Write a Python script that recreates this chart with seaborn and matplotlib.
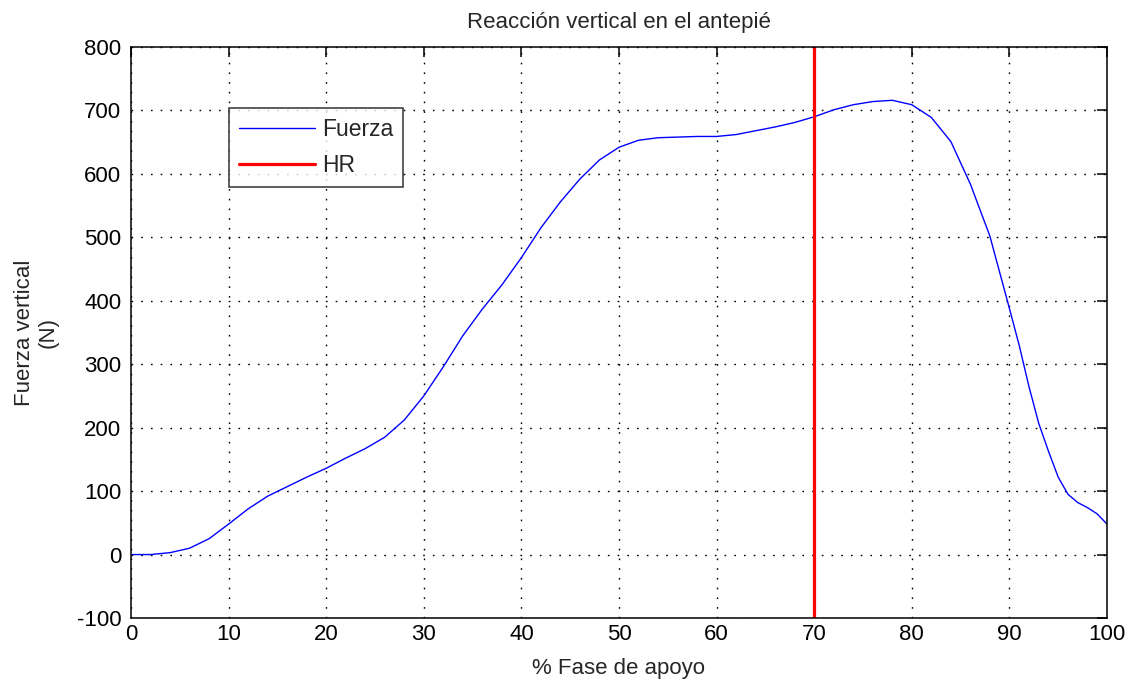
import numpy as np
import pandas as pd
import matplotlib
matplotlib.use("Agg")
import matplotlib.pyplot as plt
import seaborn as sns

# Stance-phase percentage and forefoot vertical force (N)
fase = [0, 2, 4, 6, 8, 10, 12, 14, 16, 18, 20, 22, 24, 26, 28, 30, 32, 34, 36, 38,
        40, 42, 44, 46, 48, 50, 52, 54, 56, 58, 60, 62, 64, 66, 68, 70, 72, 74, 76, 78,
        80, 82, 84, 86, 88, 90, 91, 92, 93, 94, 95, 96, 97, 98, 99, 100]
fuerza = [0, 0, 3, 10, 25, 48, 72, 92, 107, 122, 136, 152, 167, 185, 212, 250, 296, 345, 387, 425,
          468, 515, 556, 592, 622, 642, 653, 657, 658, 659, 659, 662, 668, 674, 681, 690, 701, 709, 714, 716,
          709, 689, 651, 584, 502, 388, 330, 265, 207, 163, 122, 95, 82, 74, 64, 48]

# Heel-rise instant (% of stance)
hr = 70

x_ticks = list(range(0, 101, 10))
y_ticks = list(range(-100, 801, 100))

sns.set_style("white")
plt.rcParams["font.family"] = ["Liberation Sans", "DejaVu Sans"]
plt.rcParams["font.size"] = 16
plt.rcParams["axes.unicode_minus"] = False

df = pd.DataFrame({"fase": fase, "fuerza": fuerza})

fig = plt.figure(figsize=(11.3, 6.89), dpi=100)
ax = fig.add_axes([131 / 1130, 1 - 618 / 689, 976 / 1130, 571 / 689])

sns.lineplot(data=df, x="fase", y="fuerza", ax=ax, color="#0000ff", linewidth=1.0,
             label="Fuerza")
ax.axvline(hr, color="#ff0000", linewidth=2.3, label="HR")

ax.set_xlim(0, 100)
ax.set_ylim(-100, 800)
ax.set_xticks(x_ticks)
ax.set_yticks(y_ticks)
ax.grid(True, color="black", linestyle=(0, (1.2, 5.8)), linewidth=1.0)
ax.set_axisbelow(True)

for s in ax.spines.values():
    s.set_color("black")
    s.set_linewidth(1.1)
ax.tick_params(direction="in", length=7.5, width=1.1, top=True, right=True,
               labelsize=16, colors="black")
ax.tick_params(axis="x", pad=4)
ax.tick_params(axis="y", pad=7)

ax.set_title("Reacción vertical en el antepié", fontsize=16, pad=14)
ax.set_xlabel("% Fase de apoyo", fontsize=16, labelpad=10)
ax.set_ylabel("Fuerza vertical\n(N)", fontsize=16)
ax.yaxis.set_label_coords(-72 / 976, 0.5)

leg = ax.legend(loc="upper left", bbox_to_anchor=(98 / 976, 510 / 571),
                borderaxespad=0, fancybox=False, frameon=True, handlelength=3.3,
                handletextpad=0.3, borderpad=0.45, labelspacing=0.55, fontsize=16.5)
leg.get_frame().set_edgecolor("black")
leg.get_frame().set_linewidth(1.1)
for h, lw in zip(leg.get_lines(), [1.0, 2.3]):
    h.set_linewidth(lw)

fig.savefig("out.png", dpi=100, facecolor="white")
